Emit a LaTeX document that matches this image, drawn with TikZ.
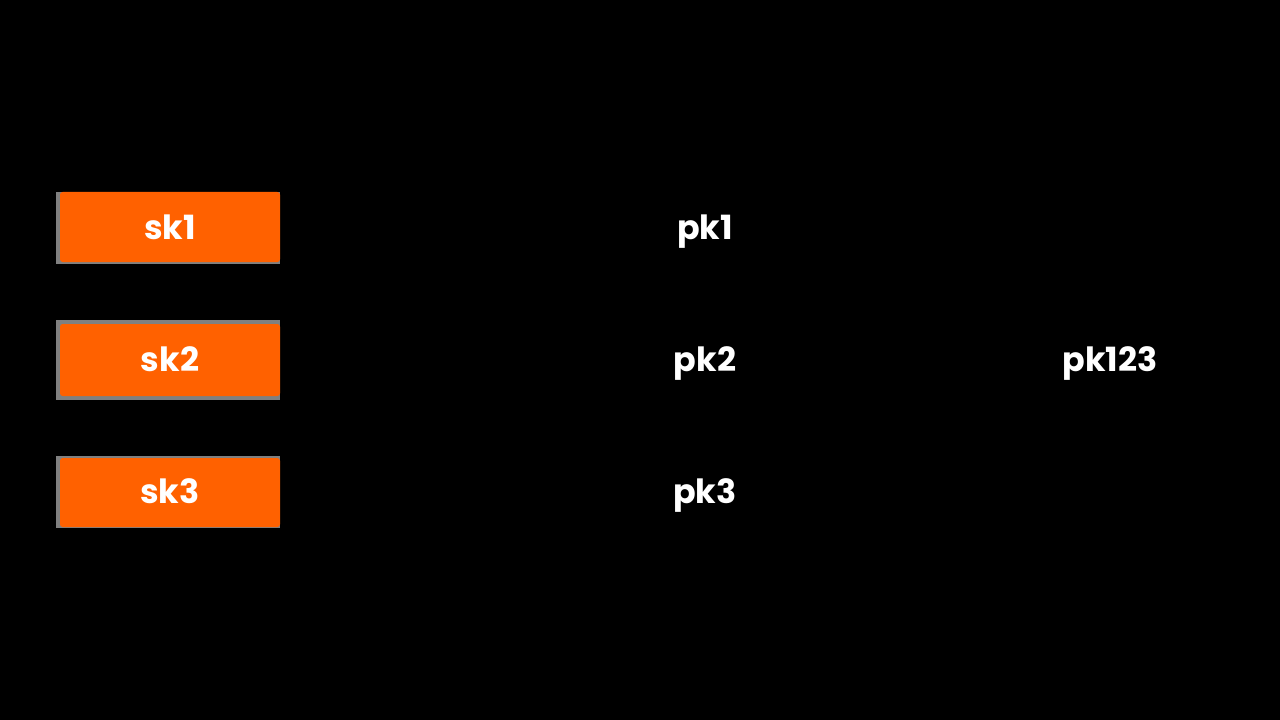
\documentclass[tikz,border=0pt]{standalone}
\usepackage{fontspec}
\setmainfont{Poppins}[BoldFont={* Bold}]
\definecolor{orng}{HTML}{FF6100}
\definecolor{gry}{HTML}{808080}
\begin{document}
\begin{tikzpicture}[x=0.75pt,y=-0.75pt,
  lbl/.style={text=white,font=\fontsize{25}{30}\selectfont\bfseries,inner sep=0pt,anchor=base},
  back/.style={fill=gry,draw=none},
  skbox/.style={fill=orng,draw=none,rounded corners=2pt}]
\fill[black] (0,0) rectangle (1280,720);
\useasboundingbox (0,0) rectangle (1280,720);
% sk boxes
\fill[back] (56,192) rectangle (280,264);
\fill[skbox] (60,192) rectangle (280,262);
\fill[back] (56,320) rectangle (280,400);
\fill[skbox] (60,324) rectangle (280,396);
\fill[back] (56,456) rectangle (280,528);
\fill[skbox] (60,458) rectangle (280,527);
\node[lbl] (sk1) at (170,239) {sk1};
\node[lbl] (sk2) at (170,371) {sk2};
\node[lbl] (sk3) at (170,503) {sk3};
\node[lbl] (pk1) at (705,239) {pk1};
\node[lbl] (pk2) at (705,371) {pk2};
\node[lbl] (pk3) at (705,503) {pk3};
\node[lbl] (pk123) at (1110,371) {pk123};
\end{tikzpicture}
\end{document}
